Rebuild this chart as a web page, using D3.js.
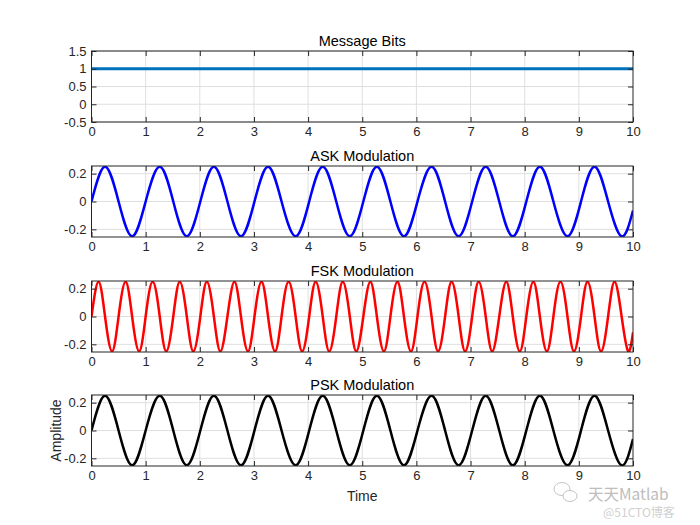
<!DOCTYPE html>
<html>
<head>
  <meta charset="utf-8">
  <title>Message Bits / ASK / FSK / PSK</title>
  <style>
    html, body { margin: 0; padding: 0; background: #fff; }
    svg { display: block; font-family: "Liberation Sans", Arial, sans-serif; }
    .tick text { fill: #262626; font-size: 13px; }
    .title { fill: #000; font-size: 14.5px; }
    .axlabel { fill: #262626; font-size: 14px; }
    .grid line { stroke: #dfdfdf; stroke-width: 1; }
    .frame { fill: none; stroke: #262626; stroke-width: 1; }
  </style>
</head>
<body>
<div id="chart"></div>
<script src="https://d3js.org/d3.v7.min.js"></script>
<script>
// ---- data ----
const xTicks = [0, 1, 2, 3, 4, 5, 6, 7, 8, 9, 10];
const panelTitles = ["Message Bits", "ASK Modulation", "FSK Modulation", "PSK Modulation"];

// message bits (all ones)
const msgT = [0, 10];
const msgV = [1, 1];
const msgTicks = [-0.5, 0, 0.5, 1, 1.5];

// ASK: one cycle per bit (zero crossings / peaks / troughs)
const askT = [0, 0.25, 0.50, 0.75, 1.00, 1.26, 1.51, 1.76, 2.01, 2.26,
              2.51, 2.76, 3.01, 3.26, 3.51, 3.77, 4.02, 4.27, 4.52, 4.77,
              5.02, 5.27, 5.52, 5.77, 6.02, 6.28, 6.53, 6.78, 7.03, 7.28,
              7.53, 7.78, 8.03, 8.28, 8.53, 8.79, 9.04, 9.29, 9.54, 9.79, 10];
const askV = [0, 0.25, 0, -0.25, 0, 0.25, 0, -0.25, 0, 0.25,
              0, -0.25, 0, 0.25, 0, -0.25, 0, 0.25, 0, -0.25,
              0, 0.25, 0, -0.25, 0, 0.25, 0, -0.25, 0, 0.25,
              0, -0.25, 0, 0.25, 0, -0.25, 0, 0.25, 0, -0.25, -0.065];

// FSK: two cycles per bit
const fskT = [0, 0.13, 0.25, 0.38, 0.50, 0.63, 0.75, 0.88, 1.00, 1.13,
              1.26, 1.38, 1.51, 1.63, 1.76, 1.88, 2.01, 2.13, 2.26, 2.38,
              2.51, 2.64, 2.76, 2.89, 3.01, 3.14, 3.26, 3.39, 3.51, 3.64,
              3.77, 3.89, 4.02, 4.14, 4.27, 4.39, 4.52, 4.64, 4.77, 4.89,
              5.02, 5.15, 5.27, 5.40, 5.52, 5.65, 5.77, 5.90, 6.02, 6.15,
              6.28, 6.40, 6.53, 6.65, 6.78, 6.90, 7.03, 7.15, 7.28, 7.40,
              7.53, 7.66, 7.78, 7.91, 8.03, 8.16, 8.28, 8.41, 8.53, 8.66,
              8.79, 8.91, 9.04, 9.16, 9.29, 9.41, 9.54, 9.66, 9.79, 9.91, 10];
const fskV = [0, 0.25, 0, -0.25, 0, 0.25, 0, -0.25, 0, 0.25,
              0, -0.25, 0, 0.25, 0, -0.25, 0, 0.25, 0, -0.25,
              0, 0.25, 0, -0.25, 0, 0.25, 0, -0.25, 0, 0.25,
              0, -0.25, 0, 0.25, 0, -0.25, 0, 0.25, 0, -0.25,
              0, 0.25, 0, -0.25, 0, 0.25, 0, -0.25, 0, 0.25,
              0, -0.25, 0, 0.25, 0, -0.25, 0, 0.25, 0, -0.25,
              0, 0.25, 0, -0.25, 0, 0.25, 0, -0.25, 0, 0.25,
              0, -0.25, 0, 0.25, 0, -0.25, 0, 0.25, 0, -0.25, -0.114];

// PSK: all bits are 1, so same phase throughout
const pskT = askT.slice();
const pskV = [0, 0.25, 0, -0.25, 0, 0.25, 0, -0.25, 0, 0.25,
              0, -0.25, 0, 0.25, 0, -0.25, 0, 0.25, 0, -0.25,
              0, 0.25, 0, -0.25, 0, 0.25, 0, -0.25, 0, 0.25,
              0, -0.25, 0, 0.25, 0, -0.25, 0, 0.25, 0, -0.25, -0.061];

const modTicks = [-0.2, 0, 0.2];

// ---- layout ----
const W = 700, H = 525;
const left = 91.5, right = 633;
const tops = [51, 166, 281, 395];
const ph = 71;
const tickLen = 5;

const panels = [
  {t: msgT, v: msgV, dom: [-0.5, 1.5], ticks: msgTicks, color: "#0072BD", width: 3, curve: d3.curveLinear},
  {t: askT, v: askV, dom: [-0.255, 0.255], ticks: modTicks, color: "#0000FF", width: 2.5, curve: d3.curveNatural},
  {t: fskT, v: fskV, dom: [-0.255, 0.255], ticks: modTicks, color: "#FF0000", width: 2.5, curve: d3.curveNatural},
  {t: pskT, v: pskV, dom: [-0.255, 0.255], ticks: modTicks, color: "#000000", width: 2.5, curve: d3.curveNatural}
];

const svg = d3.select("#chart").append("svg")
  .attr("width", W).attr("height", H);

const x = d3.scaleLinear().domain([0, 10]).range([left, right]);

panels.forEach((p, i) => {
  const top = tops[i], bottom = top + ph;
  const y = d3.scaleLinear().domain(p.dom).range([bottom, top]);
  const g = svg.append("g");

  // grid
  const grid = g.append("g").attr("class", "grid");
  grid.selectAll("line.gx").data(xTicks.slice(1, -1)).join("line")
    .attr("x1", d => x(d)).attr("x2", d => x(d))
    .attr("y1", top).attr("y2", bottom);
  grid.selectAll("line.gy").data(p.ticks).join("line")
    .attr("class", "gy")
    .attr("x1", left).attr("x2", right)
    .attr("y1", d => y(d)).attr("y2", d => y(d));

  // clip
  const cid = "clip" + i;
  svg.append("clipPath").attr("id", cid).append("rect")
    .attr("x", left).attr("y", top).attr("width", right - left).attr("height", ph);

  // line
  const pts = p.t.map((t, k) => [t, p.v[k]]);
  g.append("path")
    .datum(pts)
    .attr("clip-path", `url(#${cid})`)
    .attr("fill", "none")
    .attr("stroke", p.color)
    .attr("stroke-width", p.width)
    .attr("stroke-linejoin", "round")
    .attr("d", d3.line().x(d => x(d[0])).y(d => y(d[1])).curve(p.curve));

  // axes (ticks inward, on all four sides)
  g.append("g").attr("transform", `translate(0,${bottom})`)
    .call(d3.axisBottom(x).tickValues(xTicks).tickSizeInner(-tickLen).tickSizeOuter(0).tickPadding(5))
    .call(a => a.select(".domain").remove());
  g.append("g").attr("transform", `translate(0,${top})`)
    .call(d3.axisTop(x).tickValues(xTicks).tickSizeInner(-tickLen).tickSizeOuter(0).tickFormat(""))
    .call(a => a.select(".domain").remove());
  g.append("g").attr("transform", `translate(${left},0)`)
    .call(d3.axisLeft(y).tickValues(p.ticks).tickSizeInner(-tickLen).tickSizeOuter(0).tickPadding(5)
      .tickFormat(d => d === 0 ? "0" : (d < 0 ? "-" : "") + String(Math.abs(d))))
    .call(a => a.select(".domain").remove());
  g.append("g").attr("transform", `translate(${right},0)`)
    .call(d3.axisRight(y).tickValues(p.ticks).tickSizeInner(-tickLen).tickSizeOuter(0).tickFormat(""))
    .call(a => a.select(".domain").remove());
  g.selectAll(".tick line").attr("stroke", "#262626");

  g.append("rect").attr("class", "frame")
    .attr("x", left).attr("y", top).attr("width", right - left).attr("height", ph);

  g.append("text").attr("class", "title")
    .attr("x", (left + right) / 2).attr("y", top - 5)
    .attr("text-anchor", "middle")
    .text(panelTitles[i]);
});

// axis labels on the last panel
svg.append("text").attr("class", "axlabel")
  .attr("x", (left + right) / 2).attr("y", 501)
  .attr("text-anchor", "middle").text("Time");
svg.append("text").attr("class", "axlabel")
  .attr("transform", `translate(61,${tops[3] + ph / 2}) rotate(-90)`)
  .attr("text-anchor", "middle").text("Amplitude");

// watermark
const wm = svg.append("g").attr("fill", "none").attr("stroke", "#c4c4c4").attr("stroke-width", 1);
wm.append("ellipse").attr("cx", 562).attr("cy", 489).attr("rx", 8).attr("ry", 6.5);
wm.append("ellipse").attr("cx", 570).attr("cy", 496).attr("rx", 7).attr("ry", 5.5).attr("fill", "#fff");
svg.append("text").attr("x", 588).attr("y", 500)
  .attr("font-family", "'Noto Sans CJK SC', sans-serif").attr("font-size", 15.5)
  .attr("fill", "#bdbdbd").text("天天Matlab");
svg.append("text").attr("x", 603).attr("y", 517)
  .attr("font-family", "'Noto Sans CJK SC', sans-serif").attr("font-size", 12)
  .attr("fill", "#d0d0d0").text("@51CTO博客");
</script>
</body>
</html>
